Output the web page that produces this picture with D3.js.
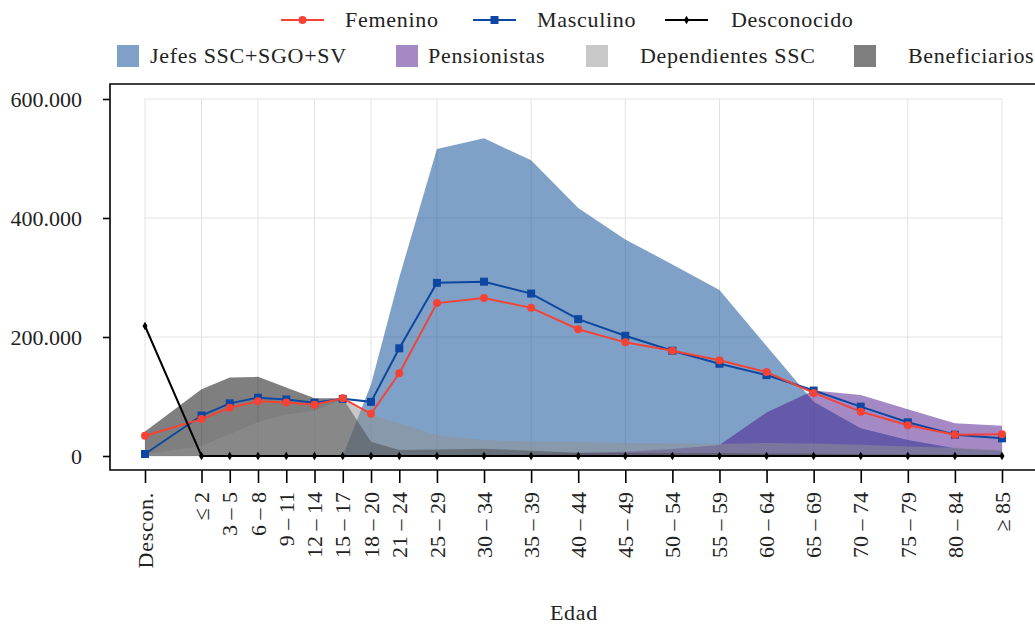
<!DOCTYPE html>
<html>
<head>
<meta charset="utf-8">
<script src="https://cdn.jsdelivr.net/npm/d3@7"></script>
<style>
    body { margin: 0; background: #fff; }
    svg { font-family: "Liberation Serif", "Times New Roman", serif; }
    .grid line { stroke: #e2e2e2; stroke-width: 1; }
    .word { letter-spacing: 0.7px; }
</style>
</head>
<body>
<svg id="chart" width="1035" height="626"></svg>
<script>
// age groups (position = lower bound of the group, Descon. put at -6)
const agePos = [-6, 0, 3, 6, 9, 12, 15, 18, 21, 25, 30, 35, 40, 45, 50, 55, 60, 65, 70, 75, 80, 85];
const ageLabels = ['Descon.', '≤ 2', '3 – 5', '6 – 8', '9 – 11', '12 – 14', '15 – 17', '18 – 20',
    '21 – 24', '25 – 29', '30 – 34', '35 – 39', '40 – 44', '45 – 49', '50 – 54', '55 – 59',
    '60 – 64', '65 – 69', '70 – 74', '75 – 79', '80 – 84', '≥ 85'];
const gridPos = [-6, 0, 6, 12, 18, 25, 35, 45, 55, 65, 75, 85];
const yTicks = [0, 200000, 400000, 600000];

// lines
const femenino = [34000, 62000, 81000, 92000, 90000, 86000, 97000, 71000, 139000, 257000, 265500,
    249000, 213000, 191000, 177000, 161000, 141000, 106000, 74500, 51600, 35800, 36400];
const masculino = [3400, 68000, 88500, 98000, 95000, 89600, 96000, 91000, 181000, 291000, 293000,
    273000, 230000, 202000, 177000, 155000, 136000, 110000, 83000, 56600, 35800, 29700];
const desconocido = [218500, 0, 0, 0, 0, 0, 0, 0, 0, 0, 0, 0, 0, 0, 0, 0, 0, 0, 0, 0, 0, 0];

// areas
const jefes = [0, 0, 0, 0, 0, 0, 0, 120000, 300000, 516000, 534000, 497000, 417000, 364000,
    322000, 279000, 185000, 91000, 46500, 27000, 13000, 9000];
const pensionistas = [0, 0, 0, 0, 0, 0, 0, 0, 0, 1000, 2000, 3000, 5000, 7000, 11800, 18500,
    73000, 110000, 102500, 78400, 55000, 51000];
const dependientes = [3000, 17000, 37000, 57000, 70000, 76000, 96000, 69000, 55000, 35000, 27000,
    24000, 23500, 22000, 21000, 20000, 22000, 21000, 19000, 16000, 14000, 10000];
const beneficiarios = [41000, 112000, 132000, 133000, 115000, 97000, 97000, 24000, 10000, 11000,
    12000, 9000, 5600, 5600, 5000, 5000, 4000, 4000, 3000, 3000, 2000, 2000];

const svg = d3.select('#chart');
const fs = 22;

const x = d3.scaleLinear().domain([-6, 85]).range([145, 1002]);
const y = d3.scaleLinear().domain([0, 600000]).range([456, 99]);

/*grid*/
const grid = svg.append('g').attr('class', 'grid');
grid.selectAll('.gv').data(gridPos).enter().append('line')
    .attr('x1', (d) => x(d)).attr('x2', (d) => x(d))
    .attr('y1', y(600000)).attr('y2', y(0));
grid.selectAll('.gh').data(yTicks).enter().append('line')
    .attr('x1', x(-6)).attr('x2', x(85))
    .attr('y1', (d) => y(d)).attr('y2', (d) => y(d));

/*areas*/
const areaSeries = [
    { name: 'Jefes SSC+SGO+SV', values: jefes, color: '#00438f' },
    { name: 'Pensionistas', values: pensionistas, color: '#4a148c' },
    { name: 'Beneficiarios', values: beneficiarios, color: '#000000' },
    { name: 'Dependientes SSC', values: dependientes, color: '#919191' }
];
const area = d3.area()
    .x((d, i) => x(agePos[i]))
    .y0(y(0))
    .y1((d) => y(d));
svg.append('g').selectAll('path')
    .data(areaSeries)
    .enter()
    .append('path')
    .attr('d', (s) => area(s.values))
    .attr('fill', (s) => s.color)
    .attr('fill-opacity', 0.5);

/*lines*/
const lineSeries = [
    { name: 'Masculino', values: masculino, color: '#0d47a1', marker: 'square' },
    { name: 'Femenino', values: femenino, color: '#f44336', marker: 'circle' },
    { name: 'Desconocido', values: desconocido, color: '#000000', marker: 'diamond' }
];
const line = d3.line()
    .x((d, i) => x(agePos[i]))
    .y((d) => y(d));
const symbols = { square: d3.symbolSquare, circle: d3.symbolCircle, diamond: d3.symbolDiamond };
const symSize = { square: 64, circle: 50, diamond: 22 };

function drawMarker(g, s, cx, cy) {
    g.append('path')
        .attr('d', d3.symbol().type(symbols[s.marker]).size(symSize[s.marker])())
        .attr('transform', `translate(${cx}, ${cy})`)
        .attr('fill', s.color);
}

lineSeries.forEach((s) => {
    const g = svg.append('g');
    g.append('path')
        .attr('d', line(s.values))
        .attr('fill', 'none')
        .attr('stroke', s.color)
        .attr('stroke-width', 2);
    s.values.forEach((v, i) => drawMarker(g, s, x(agePos[i]), y(v)));
});

/*frame*/
svg.append('path')
    .attr('d', 'M1040,84 H110 V470 H1040')
    .attr('fill', 'none')
    .attr('stroke', '#000')
    .attr('stroke-width', 1.6);

/*y axis*/
const yAxis = svg.append('g')
    .attr('transform', 'translate(110, 0)')
    .call(d3.axisLeft(y).tickValues(yTicks).tickSize(7).tickPadding(21)
        .tickFormat((d) => d3.format(',')(d).replace(/,/g, '.')));
yAxis.select('.domain').remove();
yAxis.selectAll('.tick line').attr('stroke-width', 1.6);
yAxis.selectAll('text').attr('font-size', fs).attr('font-family', 'Liberation Serif').attr('fill', '#222');

/*x axis*/
const xAxis = svg.append('g')
    .attr('transform', 'translate(0, 470)')
    .call(d3.axisBottom(x).tickValues(agePos).tickSize(13).tickFormat(''));
xAxis.select('.domain').remove();
xAxis.selectAll('.tick line').attr('stroke-width', 1.6);

svg.append('g').selectAll('text')
    .data(agePos)
    .enter()
    .append('text')
    .attr('class', (d, i) => i == 0 ? 'word' : null)
    .attr('transform', (d) => `translate(${x(d)}, 492) rotate(-90)`)
    .attr('text-anchor', 'end')
    .attr('dy', '0.35em')
    .attr('font-size', fs)
    .attr('fill', '#222')
    .text((d, i) => ageLabels[i]);

svg.append('text')
    .attr('class', 'word')
    .attr('x', 574)
    .attr('y', 620)
    .attr('text-anchor', 'middle')
    .attr('font-size', fs)
    .attr('fill', '#222')
    .text('Edad');

/*legend*/
const legLines = [
    { s: lineSeries[1], x0: 281, tx: 345 },
    { s: lineSeries[0], x0: 473, tx: 537 },
    { s: lineSeries[2], x0: 665, tx: 731 }
];
legLines.forEach((l) => {
    const g = svg.append('g');
    g.append('line')
        .attr('x1', l.x0).attr('x2', l.x0 + 43)
        .attr('y1', 20).attr('y2', 20)
        .attr('stroke', l.s.color)
        .attr('stroke-width', 2);
    drawMarker(g, l.s, l.x0 + 21.5, 20);
    g.append('text')
        .attr('class', 'word')
        .attr('x', l.tx).attr('y', 20)
        .attr('dy', '0.33em')
        .attr('font-size', fs)
        .attr('fill', '#222')
        .text(l.s.name);
});

const legAreas = [
    { s: areaSeries[0], x0: 117, tx: 150 },
    { s: areaSeries[1], x0: 396, tx: 428 },
    { s: areaSeries[3], x0: 586, tx: 640 },
    { s: areaSeries[2], x0: 854, tx: 908 }
];
legAreas.forEach((l) => {
    svg.append('rect')
        .attr('x', l.x0).attr('y', 45)
        .attr('width', 22).attr('height', 22)
        .attr('fill', l.s.color)
        .attr('fill-opacity', 0.5);
    svg.append('text')
        .attr('class', 'word')
        .attr('x', l.tx).attr('y', 56)
        .attr('dy', '0.33em')
        .attr('font-size', fs)
        .attr('fill', '#222')
        .text(l.s.name);
});
</script>
</body>
</html>
